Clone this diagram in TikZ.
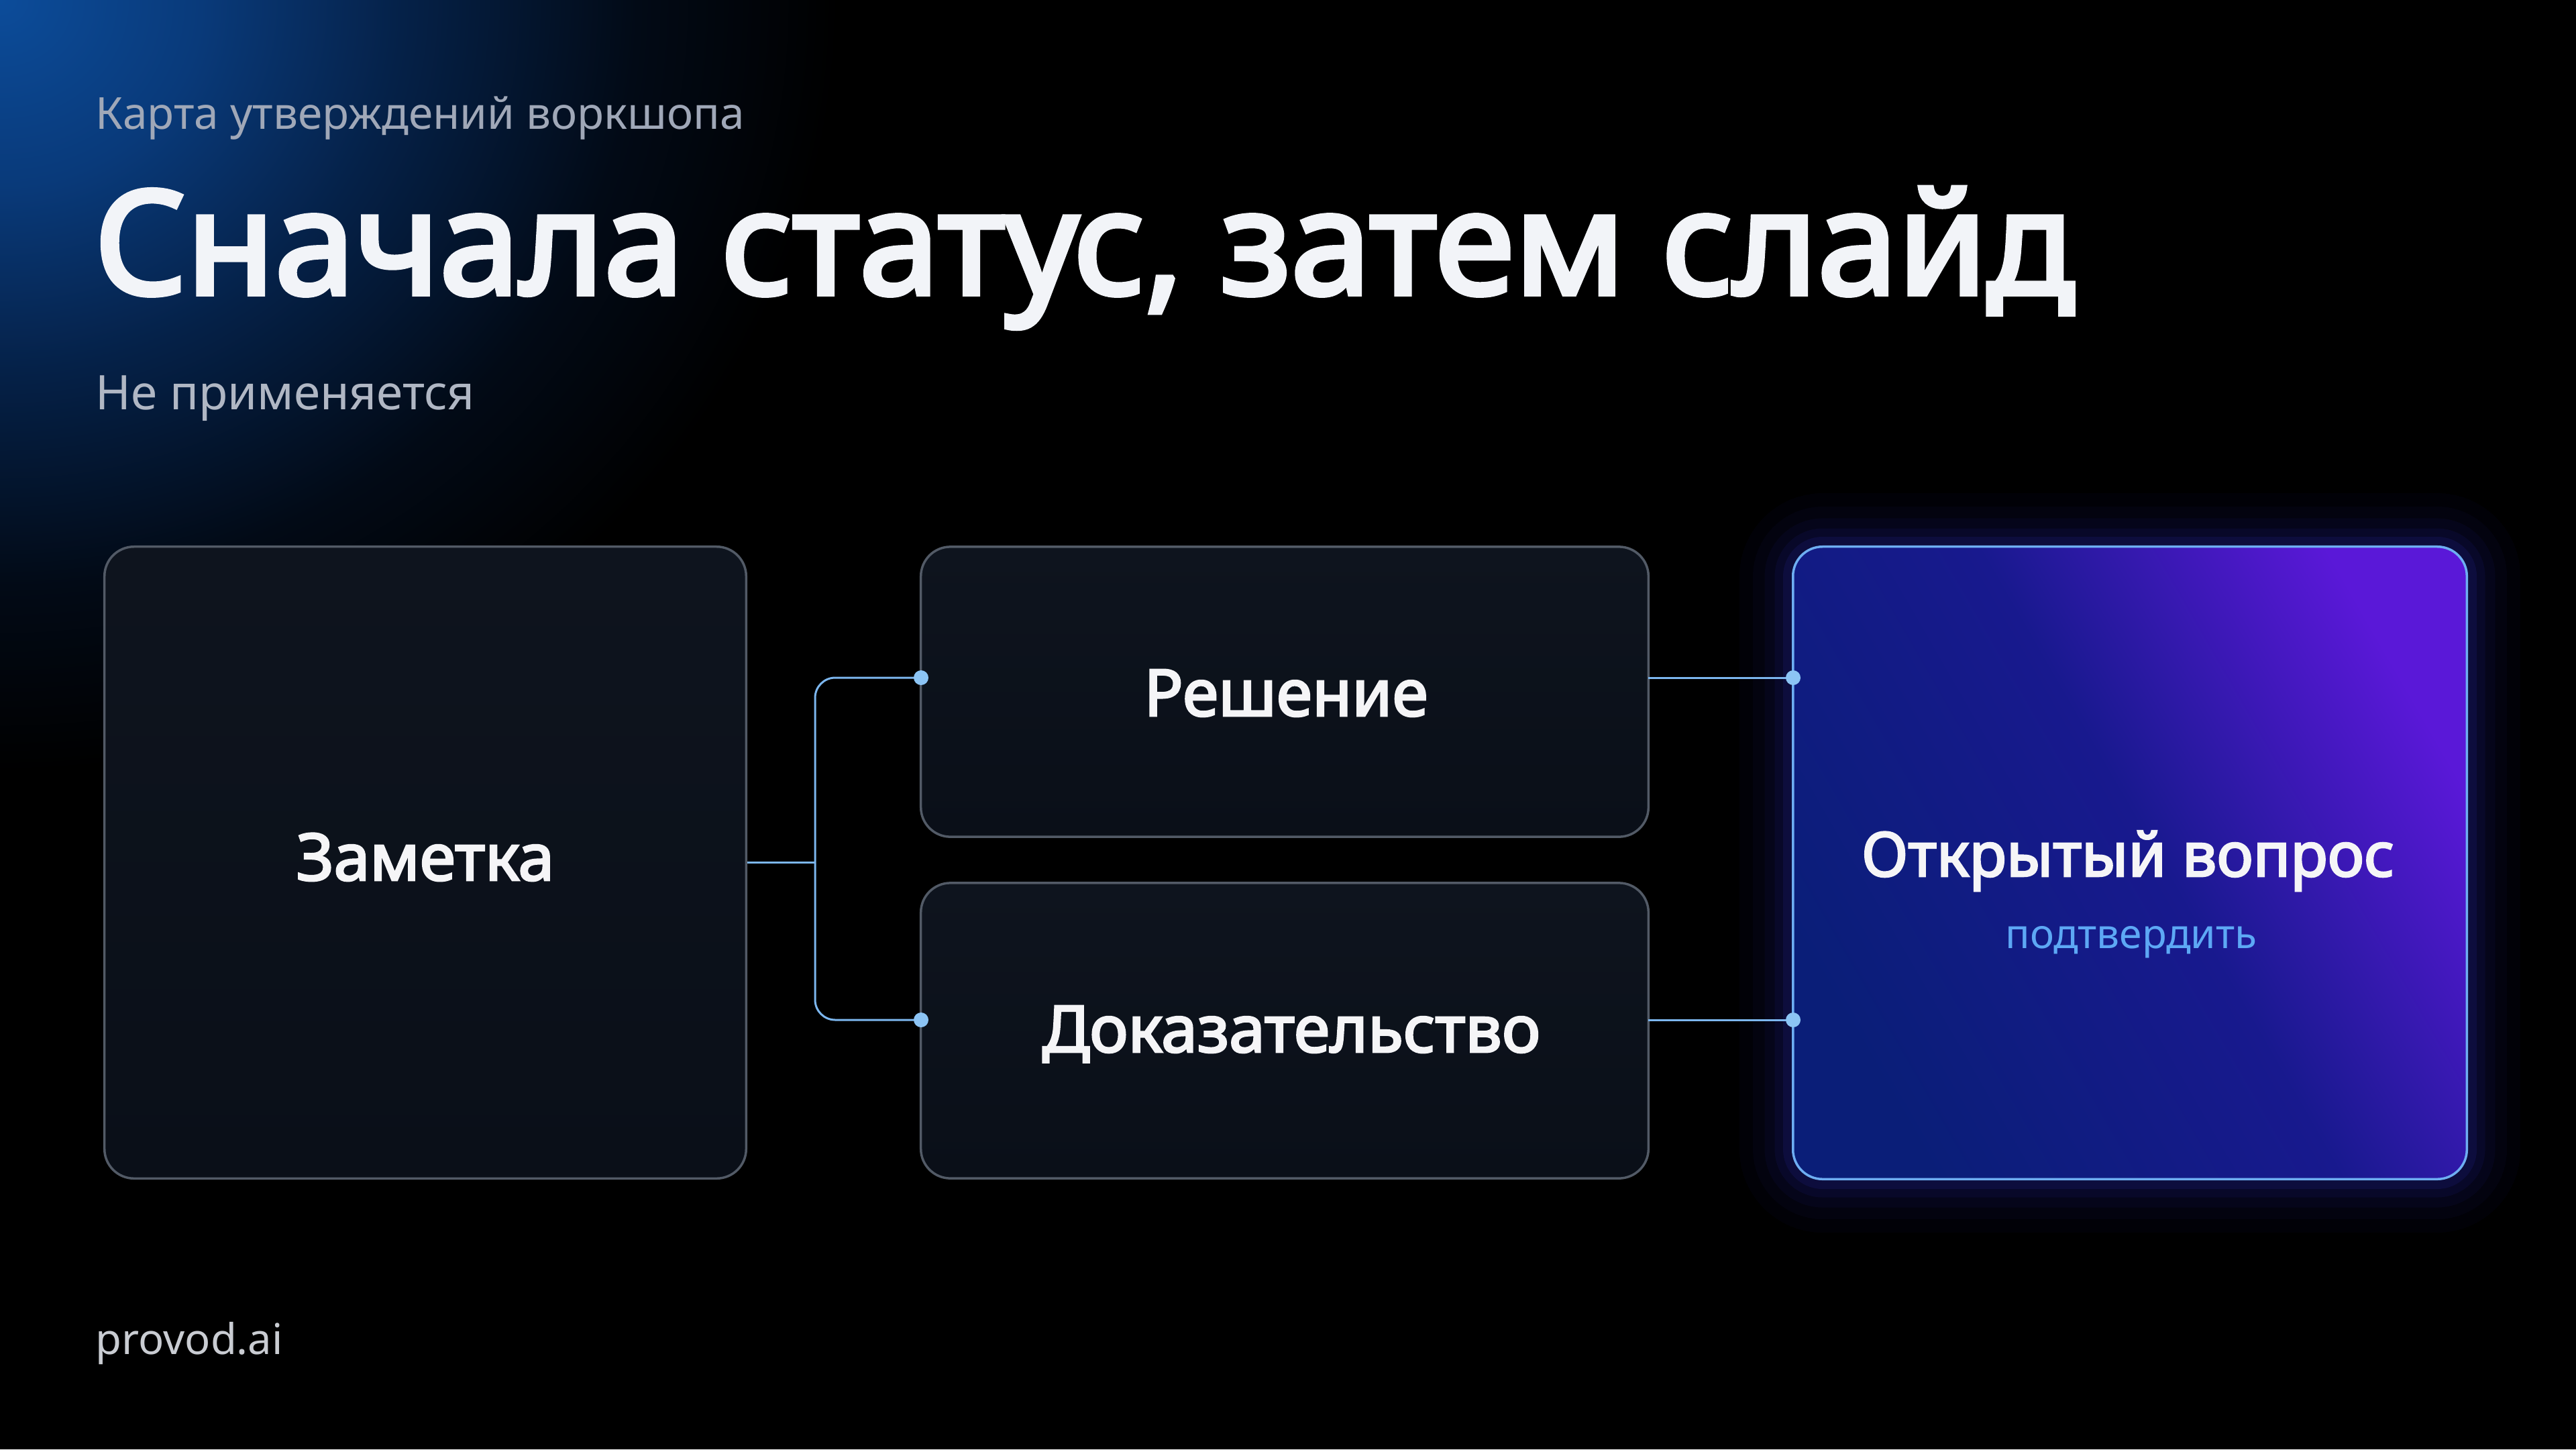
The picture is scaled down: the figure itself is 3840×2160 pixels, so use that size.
\documentclass[tikz,border=0pt]{standalone}
\usepackage{fontspec}
\setmainfont{Noto Sans}
\newfontfamily\heavy{Noto Sans}[FakeBold=3.5]
\newfontfamily\semi{Noto Sans}[FakeBold=3]
\usetikzlibrary{calc}
\definecolor{glowA}{HTML}{0C4C9A}
\definecolor{glowB}{HTML}{093A7A}
\definecolor{glowC}{HTML}{052148}
\definecolor{glowD}{HTML}{020A16}
\definecolor{oA}{HTML}{0A1E78}
\definecolor{oB}{HTML}{18198E}
\definecolor{oC}{HTML}{5A18D8}
\definecolor{boxline}{HTML}{525A66}
\definecolor{boxtop}{HTML}{0E141E}
\definecolor{boxbot}{HTML}{0A0F18}
\definecolor{otkline}{HTML}{6EAEF2}
\definecolor{glowc}{HTML}{3A3CF0}
\definecolor{connc}{HTML}{7CB6EE}
\definecolor{dotc}{HTML}{8CC4F4}
\definecolor{titlec}{HTML}{F2F4F8}
\definecolor{kickc}{HTML}{A0A8B8}
\definecolor{subc}{HTML}{B0B7C4}
\definecolor{brandc}{HTML}{C9CCD2}
\definecolor{lblc}{HTML}{F5F5F7}
\definecolor{accc}{HTML}{5DA8F5}
\pgfdeclareradialshading{cornerglow}{\pgfpoint{0bp}{0bp}}{color(0bp)=(glowA); color(6bp)=(glowB); color(12bp)=(glowC); color(19bp)=(glowD); color(25bp)=(black); color(50bp)=(black)}
\pgfdeclarehorizontalshading{otkgrad}{100bp}{color(0bp)=(oA); color(25bp)=(oA); color(52bp)=(oB); color(75bp)=(oC); color(100bp)=(oC)}
\begin{document}
\begin{tikzpicture}[x=0.01cm,y=-0.01cm,
  box/.style={rounded corners=4.4mm, inner sep=0pt, line width=0.35mm},
  darkbox/.style={box, draw=boxline, top color=boxtop, bottom color=boxbot},
  otkbox/.style={box, draw=otkline, shading=otkgrad, shading angle=30},
  conn/.style={draw=connc, line width=0.3mm},
  dotn/.style={circle, fill=dotc, inner sep=0pt, minimum size=2.2mm},
  lbl/.style={anchor=base, text=lblc, font=\semi\fontsize{27.5pt}{32pt}\selectfont, inner sep=0pt},
  lefttext/.style={anchor=base west, inner sep=0pt}
]
\useasboundingbox (0,0) rectangle (3840,2160);
\fill[black] (0,0) rectangle (3840,2160);
\begin{scope}
  \clip (0,0) rectangle (3840,2160);
  \fill[shading=cornerglow] (-1250,-1150) rectangle (1250,1150);
\end{scope}

% texts
\node[lefttext, text=kickc, font=\fontsize{18.7pt}{22pt}\selectfont] (kicker) at (142,192) {Карта утверждений воркшопа};
\node[lefttext, text=titlec, font=\heavy\fontsize{61pt}{72pt}\selectfont] (title) at (140,438) {Сначала статус, затем слайд};
\node[lefttext, text=subc, font=\fontsize{20.2pt}{24pt}\selectfont] (sub) at (142,610) {Не применяется};
\node[lefttext, text=brandc, font=\fontsize{18pt}{22pt}\selectfont] (brand) at (142,2018) {provod.ai};

% glow behind open question box
\foreach \lw/\op in {16mm/0.03, 12mm/0.035, 8.5mm/0.05, 5.5mm/0.07, 3mm/0.1} {
  \draw[glowc, line width=\lw, opacity=\op, rounded corners=4.4mm] (2673,815) rectangle (3677,1757);
}

% boxes
\node[darkbox, minimum width=9.56cm, minimum height=9.41cm] (zam) at (634,1285.5) {};
\node[darkbox, minimum width=10.84cm, minimum height=4.32cm] (res) at (1915,1031) {};
\node[darkbox, minimum width=10.84cm, minimum height=4.40cm] (dok) at (1915,1536) {};
\node[otkbox, minimum width=10.04cm, minimum height=9.42cm] (otk) at (3175,1286) {};

% labels
\node[lbl] (zamT) at (634,1312) {Заметка};
\node[lbl] (resT) at (1917,1067) {Решение};
\node[lbl] (dokT) at (1925,1568) {Доказательство};
\node[lbl, font=\semi\fontsize{26pt}{31pt}\selectfont] (otkT) at (3172,1306) {Открытый вопрос};
\node[anchor=base, inner sep=0pt, text=accc, font=\fontsize{17.2pt}{21pt}\selectfont] (otkS) at (3177,1413) {подтвердить};

% connector points
\coordinate (jn) at (1215,1285.5);
\coordinate (resIn) at (1373,1010);
\coordinate (dokIn) at (1373,1520);
\coordinate (resOut) at (2457,1010);
\coordinate (dokOut) at (2457,1520);
\coordinate (otkA) at (2673,1010);
\coordinate (otkB) at (2673,1520);

\draw[conn] (zam.east) -- (jn);
\draw[conn, rounded corners=3mm] (resIn) -| (jn) |- (dokIn);
\draw[conn] (resOut) -- (otkA);
\draw[conn] (dokOut) -- (otkB);

\node[dotn] (d1) at (resIn) {};
\node[dotn] (d2) at (dokIn) {};
\node[dotn] (d3) at (otkA) {};
\node[dotn] (d4) at (otkB) {};
\end{tikzpicture}
\end{document}
